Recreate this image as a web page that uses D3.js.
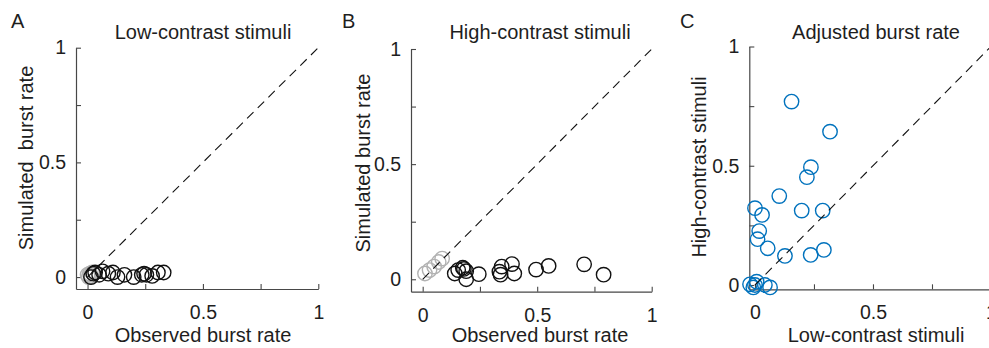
<!DOCTYPE html>
<html>
<head>
<meta charset="utf-8">
<script src="https://cdn.jsdelivr.net/npm/d3@7"></script>
<style>
body { margin: 0; background: #fff; }
svg { display: block; background: #fff; }
</style>
</head>
<body>
<svg id="chart" width="989" height="348"></svg>
<script>
// ticks every 0.25, labels only on 0, 0.5 and 1
const tickValues = [0, 0.25, 0.5, 0.75, 1];
const tickLabels = { 0: '0', 0.5: '0.5', 1: '1' };

// A - low-contrast stimuli [observed, simulated]
const lowGray = [[0.0, 0.01], [0.005, 0.0], [0.01, 0.015], [0.015, 0.005], [0.02, 0.02]];
const lowBlack = [[0.015, 0.0], [0.025, 0.015], [0.033, 0.02], [0.05, 0.01], [0.065, 0.025],
    [0.09, 0.015], [0.11, 0.02], [0.13, 0.0], [0.16, 0.01], [0.2, 0.0], [0.235, 0.01],
    [0.245, 0.015], [0.255, 0.01], [0.28, 0.005], [0.305, 0.02], [0.33, 0.02]];

// B - high-contrast stimuli [observed, simulated]
const highGray = [[0.01, 0.025], [0.03, 0.04], [0.05, 0.055], [0.07, 0.075], [0.085, 0.09]];
const highBlack = [[0.14, 0.025], [0.155, 0.04], [0.175, 0.05], [0.19, 0.035], [0.19, 0.0],
    [0.18, 0.045], [0.245, 0.022], [0.335, 0.033], [0.34, 0.02], [0.345, 0.055], [0.39, 0.066],
    [0.4, 0.025], [0.495, 0.042], [0.55, 0.058], [0.705, 0.065], [0.79, 0.02]];

// C - adjusted burst rate [low-contrast, high-contrast]
const adjusted = [[0.155, 0.769], [0.318, 0.643], [0.237, 0.494], [0.22, 0.452], [0.103, 0.373],
    [0.0, 0.322], [0.03, 0.294], [0.198, 0.312], [0.287, 0.312], [0.018, 0.226], [0.011, 0.192],
    [0.054, 0.154], [0.127, 0.122], [0.236, 0.126], [0.292, 0.147], [-0.021, 0.003],
    [0.0, 0.0], [0.007, 0.014], [-0.007, -0.01], [0.042, 0.0], [0.064, -0.01]];

const font = '"Liberation Sans", Arial, Helvetica, sans-serif';
const axisColor = '#474747';
const textColor = '#1e1e1e';

const svg = d3.select('#chart').attr('font-family', font);

function panel(p) {
    const x = d3.scaleLinear().domain([p.xMin, 1]).range([p.left, p.x1]);
    const y = d3.scaleLinear().domain([p.yMin, 1]).range([p.bottom, p.y1]);
    const fmt = d => tickLabels[d] || '';
    const g = svg.append('g');

    // Axes
    const ax = g.append('g')
        .attr('transform', `translate(0,${p.bottom})`)
        .call(d3.axisBottom(x).tickValues(tickValues).tickFormat(fmt)
            .tickSize(-5).tickSizeOuter(0).tickPadding(16));
    const ay = g.append('g')
        .attr('transform', `translate(${p.left},0)`)
        .call(d3.axisLeft(y).tickValues(tickValues).tickFormat(fmt)
            .tickSize(-5).tickSizeOuter(0).tickPadding(10));
    [ax, ay].forEach(a => {
        a.attr('font-family', font).attr('font-size', 19.5);
        a.select('.domain').attr('stroke', axisColor).attr('stroke-width', 1.2);
        a.selectAll('.tick line').attr('stroke', axisColor).attr('stroke-width', 1.1);
        a.selectAll('.tick text').attr('fill', textColor);
    });

    // Points
    p.series.forEach(s => {
        g.append('g').selectAll('circle')
            .data(s.data)
            .join('circle')
            .attr('cx', d => x(d[0]))
            .attr('cy', d => y(d[1]))
            .attr('r', 7.2)
            .attr('fill', 'none')
            .attr('stroke', s.color)
            .attr('stroke-width', 1.4);
    });

    // Unity line
    g.append('line')
        .attr('x1', x(0)).attr('y1', y(0))
        .attr('x2', x(1)).attr('y2', y(1))
        .attr('stroke', '#111')
        .attr('stroke-width', 1.1)
        .attr('stroke-dasharray', '9,6');

    // Texts
    g.append('text')
        .attr('x', p.titleX).attr('y', 39)
        .attr('text-anchor', 'middle')
        .attr('font-size', 20).attr('fill', textColor)
        .text(p.title);
    g.append('text')
        .attr('x', p.titleX).attr('y', 342)
        .attr('text-anchor', 'middle')
        .attr('font-size', 20).attr('fill', textColor)
        .text(p.xLabel);
    g.append('text')
        .attr('transform', `translate(${p.yLabelX},${p.yLabelY}) rotate(-90)`)
        .attr('text-anchor', 'middle')
        .attr('font-size', 20).attr('fill', textColor)
        .style('white-space', 'pre')
        .text(p.yLabel);
    g.append('text')
        .attr('x', p.letterX).attr('y', 28)
        .attr('font-size', 20).attr('fill', textColor)
        .text(p.letter);
}

panel({
    letter: 'A', letterX: 11,
    title: 'Low-contrast stimuli', titleX: 203,
    xLabel: 'Observed burst rate',
    yLabel: 'Simulated  burst rate', yLabelX: 33, yLabelY: 158,
    left: 76, x1: 318.3, xMin: -0.05,
    bottom: 289, y1: 47.7, yMin: -0.052,
    series: [
        { data: lowGray, color: '#b2b2b2' },
        { data: lowBlack, color: '#111' }
    ]
});

panel({
    letter: 'B', letterX: 342,
    title: 'High-contrast stimuli', titleX: 540,
    xLabel: 'Observed burst rate',
    yLabel: 'Simulated burst rate', yLabelX: 370, yLabelY: 163,
    left: 411, x1: 651.7, xMin: -0.051,
    bottom: 291.7, y1: 49, yMin: -0.054,
    series: [
        { data: highGray, color: '#b2b2b2' },
        { data: highBlack, color: '#111' }
    ]
});

panel({
    letter: 'C', letterX: 680,
    title: 'Adjusted burst rate', titleX: 876,
    xLabel: 'Low-contrast stimuli',
    yLabel: 'High-contrast stimuli', yLabelX: 706, yLabelY: 167,
    left: 749.3, x1: 991, xMin: -0.024,
    bottom: 289.3, y1: 46.5, yMin: -0.018,
    series: [
        { data: adjusted, color: '#0072BD' }
    ]
});
</script>
</body>
</html>
